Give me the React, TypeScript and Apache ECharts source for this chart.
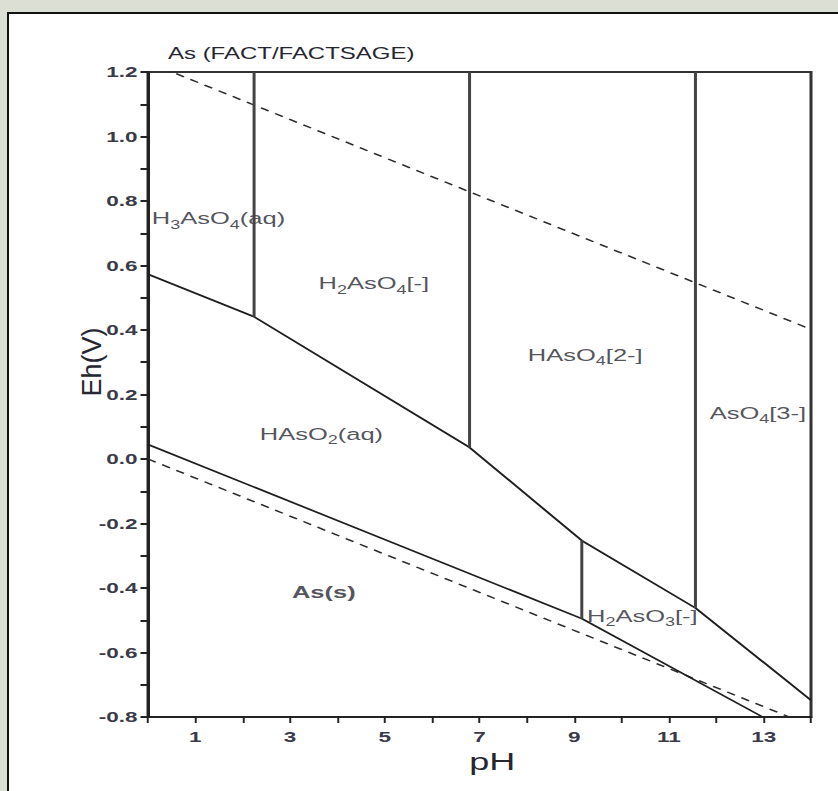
import React, { useEffect, useRef } from 'react';
import * as echarts from 'echarts';

// horizontal stretch of the original figure
const SX = 1.5;
const FONT = '"Liberation Sans", Arial, sans-serif';
const INK = '#262630';

// water stability lines (pH, Eh)
const oxygenLine = [[0, 1.23], [14, 0.402]];
const hydrogenLine = [[0, 0.0], [14, -0.827]];

// boundary between As(V) species and As(III)
const arsenateBoundary = [[0, 0.573], [2.24, 0.441], [6.79, 0.036], [9.16, -0.253], [11.56, -0.462], [14, -0.748]];
// boundary between As(III) species and As(s)
const arseniteBoundary = [[0, 0.045], [9.16, -0.495], [12.98, -0.8]];

// vertical acid-base boundaries
const verticalPH = [2.24, 6.79, 11.56, 9.16];
const verticalTop = [1.2, 1.2, 1.2, -0.253];
const verticalBottom = [0.441, 0.036, -0.462, -0.495];

// region labels
const regionNames = ['H3AsO4(aq)', 'H2AsO4[-]', 'HAsO4[2-]', 'AsO4[3-]', 'HAsO2(aq)', 'As(s)', 'H2AsO3[-]'];
const regionPH = [0.08, 3.6, 8.02, 11.86, 2.36, 3.04, 9.27];
const regionEh = [0.746, 0.544, 0.323, 0.143, 0.078, -0.414, -0.487];

const titleText = 'As (FACT/FACTSAGE)';
const xName = 'pH';
const yName = 'Eh(V)';

function toRich(name: string): string {
  if (name === 'As(s)') return '{b|As(s)}';
  return '{n|' + name.replace(/([A-Za-z])(\d)/g, '$1}{s|$2}{n|') + '}';
}

export default function App() {
  const ref = useRef<HTMLDivElement>(null);
  useEffect(() => {
    const chart = echarts.init(ref.current!, null, { renderer: 'svg' });
    const solid = { color: '#1e1e1e', width: 1.6 };
    const dashed = { color: '#2a2a2a', width: 1.4, type: [6, 5] };
    const series: any[] = [
      { type: 'line', data: oxygenLine, showSymbol: false, lineStyle: dashed, silent: true },
      { type: 'line', data: hydrogenLine, showSymbol: false, lineStyle: dashed, silent: true },
      { type: 'line', data: arsenateBoundary, showSymbol: false, lineStyle: solid, silent: true },
      { type: 'line', data: arseniteBoundary, showSymbol: false, lineStyle: solid, silent: true },
    ];
    verticalPH.forEach((ph, i) => {
      series.push({
        type: 'line',
        data: [[ph, verticalTop[i]], [ph, verticalBottom[i]]],
        showSymbol: false,
        lineStyle: { color: '#444', width: 2 },
        silent: true,
      });
    });
    series.push({
      type: 'scatter',
      symbolSize: 0,
      silent: true,
      data: regionNames.map((n, i) => ({ name: n, value: [regionPH[i], regionEh[i]] })),
      label: {
        show: true,
        position: 'right',
        distance: 0,
        formatter: (p: any) => toRich(p.name),
        rich: {
          n: { fontSize: 17, lineHeight: 24, color: INK, fontFamily: FONT },
          s: { fontSize: 12, lineHeight: 10, verticalAlign: 'bottom', color: INK, fontFamily: FONT },
          b: { fontSize: 17, lineHeight: 24, fontWeight: 'bold', color: INK, fontFamily: FONT },
        },
      },
    });

    chart.setOption({
      animation: false,
      title: {
        text: titleText,
        left: 106,
        top: 32,
        padding: 0,
        textStyle: { fontSize: 16, fontWeight: 'normal', color: INK, fontFamily: FONT },
      },
      grid: {
        left: (148 - 9) / SX,
        top: 58,
        width: (811 - 148) / SX,
        height: 645,
        show: true,
        borderColor: '#333',
        borderWidth: 2,
      },
      xAxis: {
        type: 'value',
        min: 0,
        max: 14,
        interval: 1,
        splitLine: { show: false },
        axisLine: { onZero: false, lineStyle: { color: '#222', width: 2 } },
        axisTick: { length: 6, lineStyle: { color: '#222', width: 1.3 } },
        axisLabel: {
          margin: 12,
          fontSize: 15,
          fontWeight: 'bold',
          color: '#3a3a48',
          fontFamily: FONT,
          formatter: (v: number) => (Math.round(v) % 2 === 1 ? String(Math.round(v)) : ''),
        },
        name: xName,
        nameLocation: 'middle',
        nameGap: 20,
        nameTextStyle: { fontSize: 24, color: INK, fontFamily: FONT, padding: [0, 0, 0, 17] },
      },
      yAxis: {
        type: 'value',
        min: -0.8,
        max: 1.2,
        interval: 0.1,
        splitLine: { show: false },
        axisLine: { onZero: false, lineStyle: { color: '#222', width: 2 } },
        axisTick: { length: 5, lineStyle: { color: '#222', width: 2 } },
        axisLabel: {
          margin: 7,
          fontSize: 15,
          fontWeight: 'bold',
          color: '#3a3a48',
          fontFamily: FONT,
          formatter: (v: number) => {
            const k = Math.round(v * 10);
            if (k % 2 !== 0) return '';
            const r = k / 10;
            return (r === 0 ? 0 : r).toFixed(1);
          },
        },
      },
      graphic: [
        {
          type: 'text',
          x: 55,
          y: 348,
          rotation: Math.PI / 2,
          scaleY: 1 / SX,
          silent: true,
          style: { text: yName, fontSize: 27, fill: INK, align: 'center', verticalAlign: 'middle', fontFamily: FONT },
        },
      ],
      series,
    });
    return () => chart.dispose();
  }, []);

  return (
    <div style={{ position: 'fixed', left: 0, top: 0, width: 838, height: 791, overflow: 'hidden', background: '#dcdfd3' }}>
      <div style={{ position: 'absolute', left: 7, top: 12, width: 850, height: 800, border: '2px solid #111', background: '#fff' }}>
        <div
          ref={ref}
          style={{ position: 'absolute', left: 0, top: 0, width: 553, height: 777, transform: `scaleX(${SX})`, transformOrigin: '0 0' }}
        />
      </div>
    </div>
  );
}
